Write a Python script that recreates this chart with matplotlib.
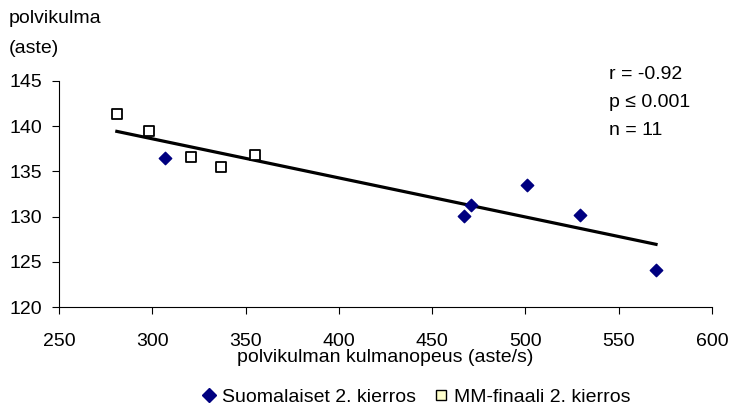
import matplotlib.pyplot as plt
import numpy as np
from matplotlib.lines import Line2D

plt.rcParams['font.family'] = ['Liberation Sans', 'DejaVu Sans']

# Suomalaiset 2. kierros (diamonds)
fin_x = [307, 467, 471, 501, 529, 570]
fin_y = [136.5, 130.1, 131.3, 133.5, 130.2, 124.1]

# MM-finaali 2. kierros (squares)
mm_x = [281, 298, 321, 337, 355]
mm_y = [141.4, 139.5, 136.6, 135.5, 136.8]

stats_text = ["r = -0.92", "p \u2264 0.001", "n = 11"]

fs = 14

fig = plt.figure(figsize=(7.31, 4.07), dpi=100)
ax = fig.add_axes([0.0807, 0.2457, 0.8933, 0.5553])

# regression line over all points
all_x = np.array(fin_x + mm_x)
all_y = np.array(fin_y + mm_y)
k, b = np.polyfit(all_x, all_y, 1)
lx = np.array([all_x.min(), all_x.max()])
ax.plot(lx, k * lx + b, color='black', lw=2.3, zorder=2)

ax.scatter(fin_x, fin_y, marker='D', s=40, color='#000080', zorder=3)
ax.scatter(mm_x, mm_y, marker='s', s=44, facecolor='white', edgecolor='black', linewidths=1.3, zorder=3)

ax.set_xlim(250, 600)
ax.set_ylim(120, 145)
ax.set_xticks(np.arange(250, 601, 50))
ax.set_yticks(np.arange(120, 146, 5))
ax.spines['top'].set_visible(False)
ax.spines['right'].set_visible(False)
ax.tick_params(labelsize=fs, length=5, direction='out')
ax.tick_params(axis='x', pad=14)
ax.tick_params(axis='y', pad=7)
ax.set_xlabel("polvikulman kulmanopeus (aste/s)", fontsize=fs, labelpad=-1)

fig.text(0.012, 0.955, "polvikulma", fontsize=fs, va='center')
fig.text(0.012, 0.882, "(aste)", fontsize=fs, va='center')

for i, t in enumerate(stats_text):
    fig.text(0.833, 0.818 - i * 0.069, t, fontsize=fs, va='center')

handles = [
    Line2D([], [], marker='D', ls='none', color='#000080', markersize=7),
    Line2D([], [], marker='s', ls='none', markerfacecolor='#ffffcc', markeredgecolor='black', markersize=7),
]
fig.legend(handles, ["Suomalaiset 2. kierros", "MM-finaali 2. kierros"], loc='center',
           bbox_to_anchor=(0.566, 0.024), ncol=2, frameon=False, fontsize=fs,
           handletextpad=0.05, columnspacing=0.7, handlelength=1.2, borderpad=0)

fig.savefig("out.png", dpi=100)
